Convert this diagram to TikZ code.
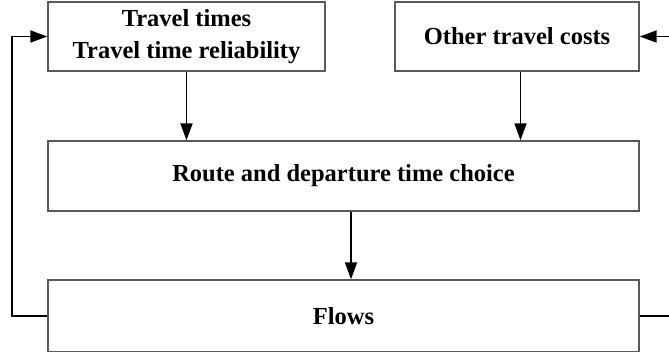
\documentclass[tikz,border=0pt]{standalone}
\usepackage{fontspec}
\setmainfont{Liberation Serif}
\usetikzlibrary{arrows.meta}
\begin{document}
\begin{tikzpicture}[x=1pt,y=-1pt,
  box/.style={draw=black!65, line width=1.4pt, rectangle, inner sep=0pt, align=center,
    font=\fontsize{24.5}{32.5}\selectfont\bfseries},
  arr/.style={line width=1.8pt, -{Triangle[length=17pt,width=12pt]}},
  ln/.style={line width=1.8pt}]
\clip (0,0) rectangle (669,351);
\fill[white] (0,0) rectangle (669,351);
\node[box, minimum width=277pt, minimum height=69pt] (tt) at (186.5,36.5) {Travel times\\Travel time reliability};
\node[box, minimum width=244pt, minimum height=69pt] (oc) at (517,36.5) {Other travel costs};
\node[box, minimum width=591pt, minimum height=70pt] (rd) at (343.5,176) {Route and departure time choice};
\node[box, minimum width=591pt, minimum height=72pt] (fl) at (343.5,316) {Flows};
\coordinate (lx) at (12,0);
\coordinate (rx) at (680,0);
\draw[arr] (tt.south) -- (tt.south |- rd.north);
\draw[arr] ([xshift=3.5pt]oc.south) -- ([xshift=3.5pt]oc.south |- rd.north);
\draw[arr] ([xshift=7.5pt]rd.south) -- ([xshift=7.5pt]rd.south |- fl.north);
\draw[arr] (fl.west) -- (fl.west -| lx) -- (tt.west -| lx) -- (tt.west);
\draw[arr] (fl.east) -- (fl.east -| rx) -- (oc.east -| rx) -- (oc.east);
\end{tikzpicture}
\end{document}
